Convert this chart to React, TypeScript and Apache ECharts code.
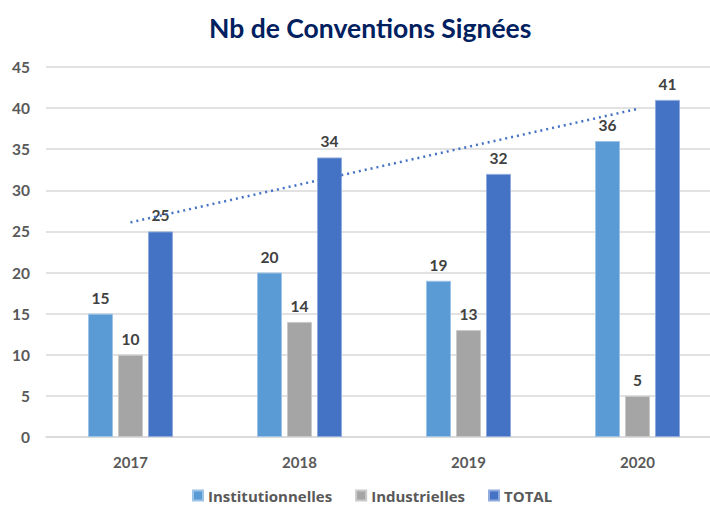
import React, { useEffect, useRef } from "react";
import * as echarts from "echarts";

const categories = ["2017", "2018", "2019", "2020"];
const institutionnelles = [15, 20, 19, 36];
const industrielles = [10, 14, 13, 5];
const total = [25, 34, 32, 41];
const yTicks = { min: 0, max: 45, interval: 5 };

function linearTrend(values: number[]): number[] {
  const n = values.length;
  const xs = values.map((_, i) => i);
  const mx = xs.reduce((a, b) => a + b, 0) / n;
  const my = values.reduce((a, b) => a + b, 0) / n;
  let num = 0;
  let den = 0;
  xs.forEach((x, i) => {
    num += (x - mx) * (values[i] - my);
    den += (x - mx) * (x - mx);
  });
  const slope = num / den;
  return xs.map((x) => +(my + slope * (x - mx)).toFixed(3));
}

const FONT = "Lato, 'Open Sans', sans-serif";

export default function App() {
  const ref = useRef<HTMLDivElement>(null);
  useEffect(() => {
    if (!ref.current) return;
    const chart = echarts.init(ref.current, undefined, { renderer: "svg" });
    const labelStyle = {
      show: true,
      position: "top" as const,
      distance: 8,
      color: "#404040",
      fontSize: 15.5,
      fontWeight: "bold" as const,
      fontFamily: FONT,
    };
    chart.setOption({
      animation: false,
      backgroundColor: "#ffffff",
      title: {
        text: "Nb de Conventions Signées",
        left: 204,
        top: 9,
        textStyle: {
          color: "#002060",
          fontSize: 26.5,
          fontWeight: "bold",
          fontFamily: FONT,
        },
      },
      legend: {
        top: 488,
        left: 192,
        padding: 0,
        itemWidth: 10,
        itemHeight: 10,
        itemGap: 23,
        icon: "rect",
        data: ["Institutionnelles", "Industrielles", "TOTAL"],
        textStyle: {
          color: "#595959",
          fontSize: 15,
          lineHeight: 14,
          fontWeight: "bold",
          fontFamily: "'Open Sans', sans-serif",
        },
      },
      grid: { left: 46, top: 67, width: 676, height: 370, containLabel: false },
      xAxis: {
        type: "category",
        data: categories,
        axisLine: { show: true, lineStyle: { color: "#D9D9D9", width: 1.5 } },
        axisTick: { show: false },
        axisLabel: {
          color: "#595959",
          fontSize: 15,
          fontWeight: "bold",
          fontFamily: FONT,
          margin: 17,
        },
      },
      yAxis: {
        type: "value",
        min: yTicks.min,
        max: yTicks.max,
        interval: yTicks.interval,
        axisLine: { show: false },
        axisTick: { show: false },
        splitLine: { lineStyle: { color: "#D9D9D9", width: 1.5 } },
        axisLabel: {
          color: "#595959",
          fontSize: 15.5,
          fontWeight: "bold",
          fontFamily: FONT,
          margin: 16,
        },
      },
      series: [
        {
          name: "Institutionnelles",
          type: "bar",
          data: institutionnelles,
          barWidth: 25,
          barGap: "20%",
          itemStyle: { color: "#5B9BD5", borderColor: "#9DC3E6", borderWidth: 1 },
          label: labelStyle,
        },
        {
          name: "Industrielles",
          type: "bar",
          data: industrielles,
          barWidth: 25,
          barGap: "20%",
          itemStyle: { color: "#A5A5A5", borderColor: "#C9C9C9", borderWidth: 1 },
          label: labelStyle,
        },
        {
          name: "TOTAL",
          type: "bar",
          data: total,
          barWidth: 25,
          barGap: "20%",
          itemStyle: { color: "#4472C4", borderColor: "#8FAADC", borderWidth: 1 },
          label: labelStyle,
        },
        {
          name: "Tendance",
          type: "line",
          data: linearTrend(total),
          symbol: "none",
          z: 5,
          lineStyle: { color: "#4472C4", width: 2.5, type: [2, 4] },
          label: { show: false },
          tooltip: { show: false },
        },
      ],
    });
    return () => chart.dispose();
  }, []);
  return (
    <div
      style={{
        position: "absolute",
        left: 0,
        top: 0,
        width: 710,
        height: 508,
        overflow: "hidden",
        background: "#ffffff",
      }}
    >
      <div ref={ref} style={{ width: 730, height: 508 }} />
    </div>
  );
}
